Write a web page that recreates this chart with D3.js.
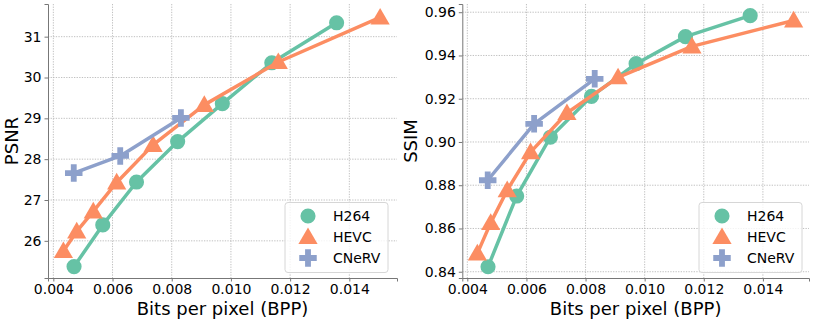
<!DOCTYPE html>
<html>
<head>
<meta charset="utf-8">
<script src="https://cdn.jsdelivr.net/npm/d3@7"></script>
<style>
  body { margin: 0; background: #fff; }
  text { font-family: "DejaVu Sans", sans-serif; fill: #000; }
</style>
</head>
<body>
<div id="chart"></div>
<script>
// data
var methods = ["H264", "HEVC", "CNeRV"];
var colors = ["#66c2a5", "#fc8d62", "#8da0cb"];

var h264Bpp  = [0.00470, 0.00567, 0.00681, 0.00820, 0.00971, 0.01138, 0.01357];
var h264Psnr = [25.37, 26.39, 27.44, 28.43, 29.36, 30.36, 31.34];
var h264Ssim = [0.8423, 0.8750, 0.9022, 0.9211, 0.9362, 0.9487, 0.9584];

var hevcBpp  = [0.00434, 0.00479, 0.00535, 0.00614, 0.00737, 0.00910, 0.01160, 0.01504];
var hevcPsnr = [25.75, 26.23, 26.72, 27.43, 28.35, 29.33, 30.38, 31.47];
var hevcSsim = [0.8485, 0.8626, 0.8777, 0.8953, 0.9134, 0.9299, 0.9442, 0.9562];

var cnervBpp  = [0.00469, 0.00626, 0.00831];
var cnervPsnr = [27.66, 28.08, 29.01];
var cnervSsim = [0.8823, 0.9084, 0.9292];

var xTicks = [0.004, 0.006, 0.008, 0.010, 0.012, 0.014];
var psnrTicks = [26, 27, 28, 29, 30, 31];
var ssimTicks = [0.84, 0.86, 0.88, 0.90, 0.92, 0.94, 0.96];

var W = 814, H = 323;
var svg = d3.select("#chart").append("svg")
  .attr("width", W).attr("height", H);

var symbols = [d3.symbolCircle, d3.symbolTriangle, d3.symbolCross];
var symSizes = [180, 160, 170];

function drawPanel(opt) {
  var x = d3.scaleLinear().domain(opt.xDomain).range([opt.left, opt.right]);
  var y = d3.scaleLinear().domain(opt.yDomain).range([opt.bottom, opt.top]);
  var g = svg.append("g");

  // grid
  g.selectAll(".gx").data(xTicks).enter().append("line")
    .attr("x1", d => x(d)).attr("x2", d => x(d))
    .attr("y1", opt.top).attr("y2", opt.bottom)
    .attr("stroke", "#b0b0b0").attr("stroke-width", 0.8)
    .attr("stroke-dasharray", "1.3,1.3");
  g.selectAll(".gy").data(opt.yTicks).enter().append("line")
    .attr("x1", opt.left).attr("x2", opt.right)
    .attr("y1", d => y(d)).attr("y2", d => y(d))
    .attr("stroke", "#b0b0b0").attr("stroke-width", 0.8)
    .attr("stroke-dasharray", "1.3,1.3");

  // axes
  var xa = g.append("g")
    .attr("transform", "translate(0," + opt.bottom + ")")
    .call(d3.axisBottom(x).tickValues(xTicks).tickFormat(d3.format(".3f")).tickSizeOuter(0).tickSize(3.5).tickPadding(3));
  var ya = g.append("g")
    .attr("transform", "translate(" + opt.left + ",0)")
    .call(d3.axisLeft(y).tickValues(opt.yTicks).tickFormat(opt.yFormat).tickSizeOuter(0).tickSize(3.5).tickPadding(3));
  [xa, ya].forEach(function(a) {
    a.select(".domain").attr("stroke", "#777").attr("stroke-width", 1);
    a.selectAll(".tick line").attr("stroke", "#777");
    a.selectAll("text").style("font-size", "14px").attr("fill", "#000");
  });

  g.append("text")
    .attr("x", (opt.left + opt.right) / 2).attr("y", opt.bottom + 37)
    .attr("text-anchor", "middle").style("font-size", "18px")
    .text("Bits per pixel (BPP)");
  g.append("text")
    .attr("transform", "translate(" + opt.ylabelX + "," + (opt.top + opt.bottom) / 2 + ") rotate(-90)")
    .attr("text-anchor", "middle").attr("dominant-baseline", "central")
    .style("font-size", "18px")
    .text(opt.ylabel);

  // series
  opt.series.forEach(function(s, i) {
    var pts = s.x.map((v, k) => [v, s.y[k]]);
    g.append("path")
      .attr("d", d3.line().x(d => x(d[0])).y(d => y(d[1]))(pts))
      .attr("fill", "none").attr("stroke", colors[i]).attr("stroke-width", 3.5)
      .attr("stroke-linejoin", "round");
    g.selectAll(".m" + i).data(pts).enter().append("path")
      .attr("transform", d => "translate(" + x(d[0]) + "," + (y(d[1]) + (i == 1 ? 1.5 : 0)) + ")")
      .attr("d", d3.symbol().type(symbols[i]).size(symSizes[i]))
      .attr("fill", colors[i]);
  });

  // legend
  var lx = opt.legendX, ly = 202.5;
  g.append("rect")
    .attr("x", lx).attr("y", ly).attr("width", 103).attr("height", 70)
    .attr("rx", 3).attr("fill", "#fff").attr("fill-opacity", 0.8)
    .attr("stroke", "#d6d6d6").attr("stroke-width", 1);
  methods.forEach(function(m, i) {
    var cy = ly + 13.5 + i * 21;
    g.append("path")
      .attr("transform", "translate(" + (lx + 23) + "," + (cy + (i == 1 ? 1.5 : 0)) + ")")
      .attr("d", d3.symbol().type(symbols[i]).size(symSizes[i]))
      .attr("fill", colors[i]);
    g.append("text")
      .attr("x", lx + 48).attr("y", cy).attr("dominant-baseline", "central")
      .style("font-size", "14px").text(m);
  });
}

drawPanel({
  left: 48, right: 397, top: 4, bottom: 278,
  xDomain: [0.00382, 0.01561], yDomain: [25.09, 31.8],
  yTicks: psnrTicks, yFormat: d3.format("d"), ylabel: "PSNR", ylabelX: 11,
  legendX: 285,
  series: [
    {x: h264Bpp, y: h264Psnr},
    {x: hevcBpp, y: hevcPsnr},
    {x: cnervBpp, y: cnervPsnr}
  ]
});

drawPanel({
  left: 462.3, right: 809, top: 4, bottom: 278,
  xDomain: [0.00383, 0.01556], yDomain: [0.8371, 0.9638],
  yTicks: ssimTicks, yFormat: d3.format(".2f"), ylabel: "SSIM", ylabelX: 410,
  legendX: 699,
  series: [
    {x: h264Bpp, y: h264Ssim},
    {x: hevcBpp, y: hevcSsim},
    {x: cnervBpp, y: cnervSsim}
  ]
});
</script>
</body>
</html>
